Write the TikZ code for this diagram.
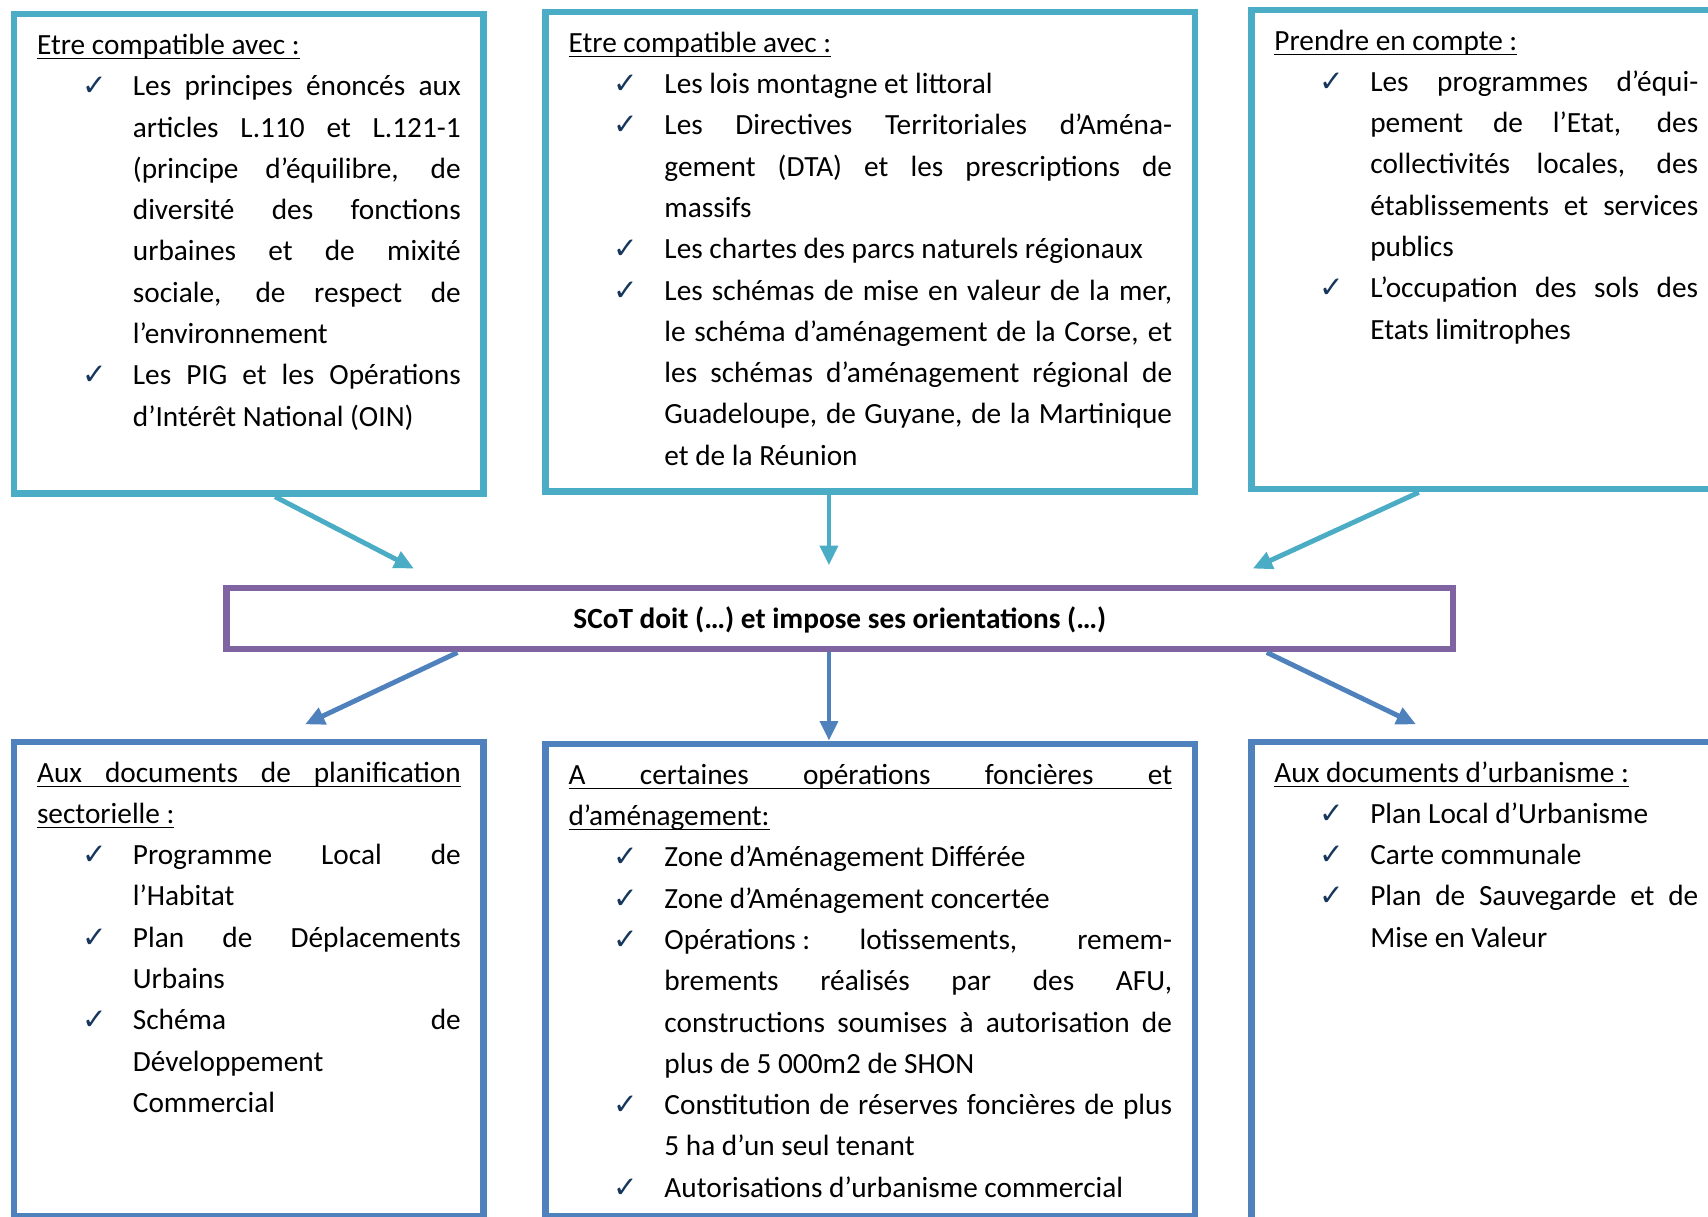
\documentclass[tikz,border=0pt]{standalone}
\usepackage{fontspec}
\setmainfont{Carlito}
\newfontfamily\checkfont{DejaVu Sans}
\usetikzlibrary{arrows.meta}

\definecolor{topcol}{RGB}{75,172,198}
\definecolor{botcol}{RGB}{79,129,189}
\definecolor{scotcol}{RGB}{128,100,162}
\definecolor{chkcol}{RGB}{23,54,93}

\newcommand{\chk}{{\checkfont\color{chkcol}✓}}
\newcommand{\itm}{\par\noindent\hangindent=44pt\hangafter=0\llap{\chk\hspace{12pt}}}
\newcommand{\ulin}[1]{\leavevmode\setbox0=\hbox{#1}\rlap{\rule[-2.2pt]{\wd0}{0.6pt}}\box0}

\hyphenpenalty=10000
\exhyphenpenalty=10000
\tolerance=10000
\hbadness=10000
\vbadness=10000

\tikzset{
	every node/.style = {font=\fontsize{13.45}{18.95}\selectfont},
	box/.style = {draw, line width=3pt, anchor=north west, inner xsep=10.5pt, inner ysep=5.25pt},
	topbox/.style = {box, draw=topcol},
	botbox/.style = {box, draw=botcol},
	toparrow/.style = {draw=topcol, line width=2.25pt, -{Triangle[length=9pt, width=8pt]}},
	botarrow/.style = {draw=botcol, line width=2.25pt, -{Triangle[length=9pt, width=8pt]}}
}

\begin{document}
\begin{tikzpicture}[x = 0.5pt, y = -0.5pt]
	\path[use as bounding box, clip] (0, 0) rectangle (1568, 1117);

	% Nodes
	\node[topbox] (tl) at (10, 10) {\parbox[t][209.5pt][t]{194.5pt}{%
		\strut\ulin{Etre compatible avec :}
		\itm Les principes énoncés aux\linebreak articles L.110 et L.121-1\linebreak (principe d’équilibre, de\linebreak diversité des fonctions\linebreak urbaines et de mixité\linebreak sociale, de respect de\linebreak l’environnement
		\itm Les PIG et les Opérations\linebreak d’Intérêt National (OIN)}};
	\node[topbox] (tm) at (498, 8) {\parbox[t][209.5pt][t]{277pt}{%
		\strut\ulin{Etre compatible avec :}
		\itm Les lois montagne et littoral
		\itm Les Directives Territoriales d’Aména-\linebreak gement (DTA) et les prescriptions de\linebreak massifs
		\itm Les chartes des parcs naturels régionaux
		\itm Les schémas de mise en valeur de la mer,\linebreak le schéma d’aménagement de la Corse, et\linebreak les schémas d’aménagement régional de\linebreak Guadeloupe, de Guyane, de la Martinique\linebreak et de la Réunion}};
	\node[topbox] (tr) at (1146, 6) {\parbox[t][209.5pt][t]{194.5pt}{%
		\strut\ulin{Prendre en compte :}
		\itm Les programmes d’équi-\linebreak pement de l’Etat, des\linebreak collectivités locales, des\linebreak établissements et services\linebreak publics
		\itm L’occupation des sols des\linebreak Etats limitrophes}};

	\node[draw=scotcol, line width=3pt, minimum width=563pt, minimum height=28pt, text height=10pt, text depth=1pt] (scot) at (771, 568) {\bfseries SCoT doit (…) et impose ses orientations (…)};

	\node[botbox] (bl) at (10, 678) {\parbox[t][207.5pt][t]{194.5pt}{%
		\strut\ulin{\hbox to\linewidth{Aux\hfill documents\hfill de\hfill planification}}\par
		\ulin{sectorielle :}
		\itm Programme Local de\linebreak l’Habitat
		\itm Plan de Déplacements\linebreak Urbains
		\itm Schéma de\linebreak Développement\newline Commercial}};
	\node[botbox] (bm) at (498, 680) {\parbox[t][206.5pt][t]{277pt}{%
		\strut\ulin{\hbox to\linewidth{A\hfill certaines\hfill opérations\hfill foncières\hfill et}}\par
		\ulin{d’aménagement:}
		\itm Zone d’Aménagement Différée
		\itm Zone d’Aménagement concertée
		\itm \hbox{Opérations :} lotissements, remem-\linebreak brements réalisés par des AFU,\linebreak constructions soumises à autorisation de\linebreak plus de 5~000m2 de SHON
		\itm Constitution de réserves foncières de plus\linebreak 5 ha d’un seul tenant
		\itm Autorisations d’urbanisme commercial}};
	\node[botbox] (br) at (1146, 678) {\parbox[t][239.5pt][t]{194.5pt}{%
		\strut\ulin{Aux documents d’urbanisme :}
		\itm Plan Local d’Urbanisme
		\itm Carte communale
		\itm Plan de Sauvegarde et de\linebreak Mise en Valeur}};

	\coordinate (tipA) at (380, 522);
	\coordinate (tipB) at ([xshift=-5pt, yshift=9pt]scot.north);
	\coordinate (tipC) at (1150, 522);
	\coordinate (tipD) at (280, 665);
	\coordinate (tipF) at (1300, 665);

	% Edges
	\draw[toparrow] ([xshift=12pt]tl.south) to (tipA);
	\draw[toparrow] (tm.south -| tipB) to (tipB);
	\draw[toparrow] ([xshift=-31pt]tr.south) to (tipC);
	\draw[botarrow] ([xshift=-175.5pt]scot.south) to (tipD);
	\draw[botarrow] ([xshift=-5pt]scot.south) to ([xshift=-5pt]scot.south |- bm.north);
	\draw[botarrow] ([xshift=196pt]scot.south) to (tipF);
\end{tikzpicture}
\end{document}
